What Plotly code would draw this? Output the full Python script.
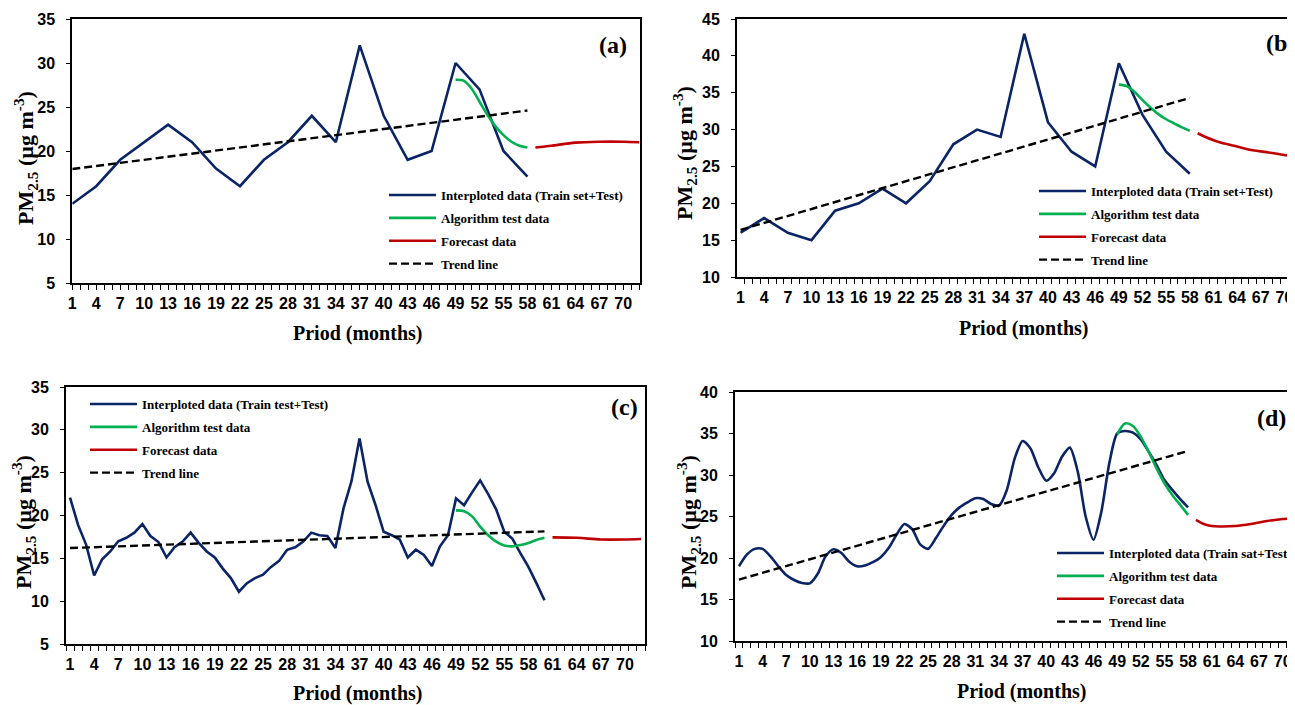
import plotly.graph_objects as go

# ---------------- data ----------------
# Panel (a)
a_obs_x = [1, 4, 7, 10, 13, 16, 19, 22, 25, 28, 31, 34, 37, 40, 43, 46, 49, 52, 55, 58]
a_obs_y = [14, 16, 19, 21, 23, 21, 18, 16, 19, 21, 24, 21, 32, 24, 19, 20, 30, 27, 20, 17.1]
a_test_x = [49, 50, 51, 52, 53, 54, 55, 56, 57, 58]
a_test_y = [28.1, 28.0, 27.1, 25.6, 24.1, 22.8, 21.8, 21.05, 20.6, 20.4]
a_fc_x = [59, 61, 64, 67, 70, 72]
a_fc_y = [20.4, 20.6, 20.95, 21.05, 21.05, 21.0]
a_trend_x = [1, 58]
a_trend_y = [17.95, 24.6]

# Panel (b)
b_obs_x = [1, 4, 7, 10, 13, 16, 19, 22, 25, 28, 31, 34, 37, 40, 43, 46, 49, 52, 55, 58]
b_obs_y = [16, 18, 16, 15, 19, 20, 22, 20, 23, 28, 30, 29, 43, 31, 27, 25, 39, 32, 27, 24]
b_test_x = [49, 50, 51, 52, 53, 54, 55, 56, 57, 58]
b_test_y = [36.1, 35.9, 35.1, 34.0, 33.0, 32.1, 31.4, 30.85, 30.3, 29.85]
b_fc_x = [59, 60, 62, 64, 66, 68, 70, 72]
b_fc_y = [29.5, 29.0, 28.2, 27.7, 27.2, 26.9, 26.55, 26.3]
b_trend_x = [1, 58]
b_trend_y = [16.4, 34.3]

# Panel (c)
c_obs_x = list(range(1, 61))
c_obs_y = [22.1, 18.9, 16.6, 13.0, 14.9, 15.8, 17.0, 17.4, 18.0, 19.0,
           17.6, 16.9, 15.1, 16.3, 16.95, 18.0, 16.8, 15.8, 15.1, 13.8,
           12.7, 11.1, 12.1, 12.7, 13.1, 14.0, 14.7, 16.0, 16.3, 16.95,
           18.0, 17.7, 17.6, 16.2, 20.8, 24.0, 29.0, 23.95, 21.2, 18.1,
           17.7, 17.2, 15.1, 16.0, 15.4, 14.1, 16.4, 17.7, 22.0, 21.2,
           22.7, 24.1, 22.5, 20.7, 18.1, 17.3, 15.6, 14.0, 12.1, 10.1]
c_test_x = [49, 50, 51, 52, 53, 54, 55, 56, 57, 58, 59, 60]
c_test_y = [20.6, 20.5, 19.9, 18.7, 17.7, 16.95, 16.5, 16.4, 16.55, 16.8, 17.15, 17.4]
c_fc_x = [61, 64, 67, 70, 72]
c_fc_y = [17.45, 17.4, 17.2, 17.2, 17.25]
c_trend_x = [1, 60]
c_trend_y = [16.2, 18.15]

# Panel (d)
d_obs_x = list(range(1, 59))
d_obs_y = [19.0, 20.4, 21.1, 21.1, 20.2, 19.0, 17.95, 17.35, 17.0, 16.95,
           18.1, 20.2, 21.05, 20.6, 19.55, 19.0, 19.1, 19.5, 20.1, 21.2,
           22.8, 24.1, 23.45, 21.65, 21.1, 22.4, 23.9, 25.2, 26.1, 26.7,
           27.2, 27.1, 26.5, 26.3, 28.2, 32.0, 34.1, 33.2, 30.9, 29.3,
           30.2, 32.2, 33.3, 30.4, 25.0, 22.2, 25.6, 31.4, 35.0, 35.3,
           35.1, 34.3, 32.8, 31.2, 29.4, 28.2, 27.1, 26.1]
d_test_x = [49, 50, 51, 52, 53, 54, 55, 56, 57, 58]
d_test_y = [34.9, 36.2, 35.9, 34.6, 32.8, 30.8, 29.0, 27.6, 26.4, 25.2]
d_fc_x = [59, 60, 61, 62, 64, 66, 68, 70, 72]
d_fc_y = [24.6, 24.1, 23.85, 23.8, 23.85, 24.1, 24.45, 24.7, 24.8]
d_trend_x = [1, 58]
d_trend_y = [17.4, 32.9]

legend_names = {
    "a": "Interploted data (Train set+Test)",
    "b": "Interploted data (Train set+Test)",
    "c": "Interploted data (Train test+Test)",
    "d": "Interploted data (Train sat+Test)",
}
test_name = "Algorithm test data"
fc_name = "Forecast data"
trend_name = "Trend line"
panel_labels = ["(a)", "(b)", "(c)", "(d)"]
x_title = "Priod (months)"
y_title = "PM<sub>2.5</sub> (µg m<sup>-3</sup>)"

# ---------------- styling ----------------
VW, VH = 1295, 705      # browser window
OFF = 8                 # default page margin around the figure
W, H = VW - OFF, VH - OFF
BLUE = "#0B2465"
GREEN = "#00B050"
RED = "#C00000"
SERIF = "Liberation Serif, Times New Roman, serif"
SANS = "Liberation Sans Narrow, Liberation Sans, Arial, sans-serif"


def px(x):
    return (x - OFF) / W


def py(y):
    return 1 - (y - OFF) / H


panels = [
    dict(key="a", obs=(a_obs_x, a_obs_y), test=(a_test_x, a_test_y), fc=(a_fc_x, a_fc_y),
         trend=(a_trend_x, a_trend_y), xd=(72.3, 640), yd=(19, 283), xr=[1, 72.1], yr=[5, 35],
         minor0=1, ymirror=True, smooth=False, leg=(384, 180), lab=(613, 45),
         ytl=(25, 158), xtl=(357, 333)),
    dict(key="b", obs=(b_obs_x, b_obs_y), test=(b_test_x, b_test_y), fc=(b_fc_x, b_fc_y),
         trend=(b_trend_x, b_trend_y), xd=(737, 1295), yd=(19, 277), xr=[0.55, 71.35], yr=[10, 45],
         minor0=0.5, ymirror=False, smooth=False, leg=(1034, 176), lab=(1280, 43),
         ytl=(685, 153), xtl=(1023, 328)),
    dict(key="c", obs=(c_obs_x, c_obs_y), test=(c_test_x, c_test_y), fc=(c_fc_x, c_fc_y),
         trend=(c_trend_x, c_trend_y), xd=(66, 645), yd=(387, 644), xr=[0.5, 72.5], yr=[5, 35],
         minor0=0.5, ymirror=True, smooth=False, leg=(85, 389), lab=(624, 407),
         ytl=(23, 522), xtl=(357, 693)),
    dict(key="d", obs=(d_obs_x, d_obs_y), test=(d_test_x, d_test_y), fc=(d_fc_x, d_fc_y),
         trend=(d_trend_x, d_trend_y), xd=(735, 1295), yd=(392, 641), xr=[0.5, 71.57], yr=[10, 40],
         minor0=0.5, ymirror=False, smooth=True, leg=(1052, 538), lab=(1271, 418),
         ytl=(688, 522), xtl=(1021, 691)),
]

fig = go.Figure()
layout = dict(
    width=W, height=H,
    margin=dict(l=0, r=0, t=0, b=0, autoexpand=False),
    paper_bgcolor="white", plot_bgcolor="white",
    showlegend=True,
    annotations=[],
)

for i, p in enumerate(panels):
    n = "" if i == 0 else str(i + 1)
    xa, ya = "x" + n, "y" + n
    lg = "legend" + n
    k = p["key"]
    common = dict(xaxis=xa, yaxis=ya, mode="lines", legend=lg, hoverinfo="skip")
    fig.add_trace(go.Scatter(x=p["obs"][0], y=p["obs"][1], name=legend_names[k],
                             legendgroup=k + "1",
                             line=dict(color=BLUE, width=2.6,
                                       shape="spline" if p["smooth"] else "linear",
                                       smoothing=0.7), **common))
    fig.add_trace(go.Scatter(x=p["test"][0], y=p["test"][1], name=test_name,
                             legendgroup=k + "2",
                             line=dict(color=GREEN, width=2.6, shape="spline", smoothing=0.8),
                             **common))
    fig.add_trace(go.Scatter(x=p["fc"][0], y=p["fc"][1], name=fc_name,
                             legendgroup=k + "3",
                             line=dict(color=RED, width=2.6, shape="spline", smoothing=0.8),
                             **common))
    fig.add_trace(go.Scatter(x=p["trend"][0], y=p["trend"][1], name=trend_name,
                             legendgroup=k + "4",
                             line=dict(color="black", width=2.4, dash="8px,4px"), **common))

    layout["xaxis" + n] = dict(
        domain=[px(p["xd"][0]), min(1.0, px(p["xd"][1]))],
        anchor=ya, range=p["xr"],
        tickmode="linear", tick0=1, dtick=3,
        ticks="outside", ticklen=5, tickwidth=1.3,
        tickcolor="black" if p["minor0"] == 1 else "rgba(0,0,0,0)",
        minor=dict(ticks="outside", tick0=p["minor0"], dtick=1, ticklen=5,
                   tickwidth=1.3, tickcolor="black", showgrid=False),
        showline=True, linecolor="black", linewidth=2, mirror=True,
        showgrid=False, zeroline=False,
        tickfont=dict(family=SANS, size=16, color="black", weight="bold"),
        ticklabelstandoff=0,
        fixedrange=True,
    )
    layout["yaxis" + n] = dict(
        domain=[py(p["yd"][1]), py(p["yd"][0])],
        anchor=xa, range=p["yr"],
        tickmode="linear", tick0=0, dtick=5,
        ticks="outside", ticklen=4, tickwidth=1.3, tickcolor="black",
        showline=True, linecolor="black", linewidth=2, mirror=p["ymirror"],
        showgrid=False, zeroline=False,
        tickfont=dict(family=SANS, size=16, color="black", weight="bold"),
        ticklabelstandoff=8,
        fixedrange=True,
    )
    layout[lg] = dict(
        x=px(p["leg"][0]), y=py(p["leg"][1]), xanchor="left", yanchor="top",
        bgcolor="rgba(0,0,0,0)", borderwidth=0,
        font=dict(family=SERIF, size=13, color="black", weight="bold"),
        tracegroupgap=3, itemwidth=47, traceorder="grouped",
    )
    layout["annotations"] += [
        dict(text=panel_labels[i], x=px(p["lab"][0]), y=py(p["lab"][1]), xref="paper", yref="paper",
             showarrow=False, xanchor="center", yanchor="middle",
             font=dict(family=SERIF, size=24, color="black", weight="bold")),
        dict(text=x_title, x=px(p["xtl"][0]), y=py(p["xtl"][1]), xref="paper", yref="paper",
             showarrow=False, xanchor="center", yanchor="middle",
             font=dict(family=SERIF, size=20, color="black", weight="bold")),
        dict(text=y_title, x=px(p["ytl"][0]), y=py(p["ytl"][1]), xref="paper", yref="paper",
             showarrow=False, xanchor="center", yanchor="middle", textangle=-90,
             font=dict(family=SERIF, size=22, color="black", weight="bold")),
    ]

fig.update_layout(**layout)
fig.write_html("out.html", config={"displayModeBar": False})
